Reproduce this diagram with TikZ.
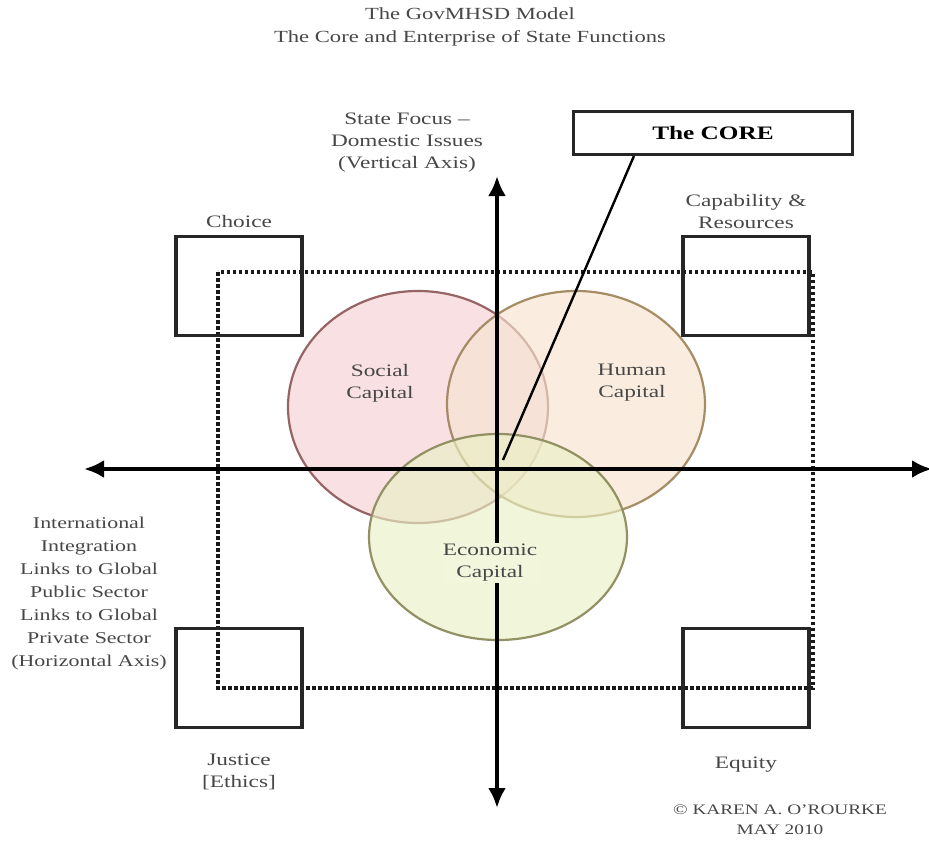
\documentclass[tikz,border=0pt]{standalone}
\usepackage{fontspec}
\setmainfont{Liberation Serif}[FakeStretch=1.33]
\usetikzlibrary{arrows.meta,positioning}
\definecolor{socialfill}{RGB}{244,208,212}
\definecolor{socialedge}{RGB}{150,100,100}
\definecolor{humanfill}{RGB}{247,228,208}
\definecolor{humanedge}{RGB}{165,140,100}
\definecolor{econfill}{RGB}{234,240,196}
\definecolor{econedge}{RGB}{145,145,100}
\begin{document}
\begin{tikzpicture}[x=1pt,y=-1pt,
  lbl/.style={align=center,text=black!72,font=\fontsize{17.5}{22}\selectfont},
  cornerbox/.style={draw=black!85,line width=3.2pt,minimum width=126pt,minimum height=99pt,inner sep=0pt},
  axis/.style={line width=4.4pt,{Latex[length=20pt,width=18pt]}-{Latex[length=20pt,width=18pt]}},
  venn/.style={line width=2.2pt,fill opacity=0.65,draw opacity=1}]
\useasboundingbox (0,0) rectangle (929,843);

% title
\node[lbl,font=\fontsize{17}{23}\selectfont] (title) at (470,27) {The GovMHSD Model\\The Core and Enterprise of State Functions};

% the three capitals
\draw[venn,draw=socialedge,fill=socialfill] (418,407) ellipse [x radius=130pt,y radius=116pt];
\draw[venn,draw=humanedge,fill=humanfill] (576,404) ellipse [x radius=129pt,y radius=113pt];
\draw[venn,draw=econedge,fill=econfill] (498,537) ellipse [x radius=129pt,y radius=103pt];

% dotted frame
\draw[line width=3.2pt,black!90,dash pattern=on 3.5pt off 2.5pt] (218,272) rectangle (813,688);

% corner boxes
\node[cornerbox] (choicebox) at (239,286) {};
\node[cornerbox] (capbox) at (746,286) {};
\node[cornerbox] (justbox) at (239,678) {};
\node[cornerbox] (eqbox) at (746,678) {};
\node[lbl,above=4pt of choicebox] (choice) {Choice};
\node[lbl,above=3pt of capbox] (cap) {Capability \&\\Resources};
\node[lbl,below=21pt of justbox] (justice) {Justice\\{[}Ethics{]}};
\node[lbl,below=24pt of eqbox] (equity) {Equity};

% axes
\coordinate (north) at (497,176);
\coordinate (south) at (497,808);
\coordinate (west) at (84,469);
\coordinate (east) at (932,469);
\draw[axis] (west) -- (east);
\draw[axis] (south) -- (north);
\node[lbl] (vlabel) at (407,143) {State Focus --\\Domestic Issues\\(Vertical Axis)};
\node[lbl,font=\fontsize{16.5}{23}\selectfont] (hlabel) at (89,594) {International\\Integration\\Links to Global\\Public Sector\\Links to Global\\Private Sector\\(Horizontal Axis)};

% labels of the capitals
\node[lbl] (social) at (380,383) {Social\\Capital};
\node[lbl] (human) at (632,383) {Human\\Capital};
\node[lbl,fill=econfill!60,inner sep=1pt] (econ) at (490,563) {Economic\\Capital};

% the core
\node[draw=black!85,line width=3.2pt,minimum width=279pt,minimum height=43pt,font=\fontsize{19}{22}\selectfont\bfseries] (core) at (713,133) {The CORE};
\coordinate (hub) at (503,460);
\draw[line width=2.4pt] ([xshift=62pt]core.south west) -- (hub);

% copyright
\node[lbl,font=\fontsize{14.5}{20}\selectfont] (copy) at (780,820) {\textcopyright\ KAREN A. O'ROURKE\\MAY 2010};
\end{tikzpicture}
\end{document}
